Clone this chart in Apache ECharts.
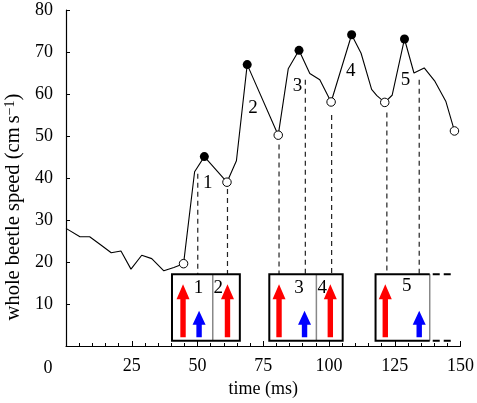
<!DOCTYPE html>
<html><head><meta charset="utf-8">
<script src="https://cdn.jsdelivr.net/npm/echarts@6/dist/echarts.min.js"></script>
<style>html,body{margin:0;padding:0;background:#fff}#c{width:477px;height:403px}</style>
</head><body><div id="c"></div>
<script>
// ---- data ----
const speedTimes = [0, 5.3, 9, 13.4, 17.2, 20.9, 24.7, 28.8, 32.6, 37.2, 41, 44.7, 48.9, 52.6, 61.2, 64.8, 68.9, 80.7, 84.5, 88.6, 92.7, 96.5, 100.8, 108.6, 112.2, 116.2, 118.2, 121.2, 124, 128.7, 132.3, 136.2, 140.3, 144.4, 147.7];
const speedValues = [28, 26, 26, 24, 22.2, 22.6, 18.3, 21.6, 20.8, 17.9, 18.7, 19.6, 41.5, 45.1, 39, 44.1, 67, 50.2, 66, 70.4, 64.9, 63.4, 58.1, 74.1, 69.7, 61.1, 59.6, 58, 59.7, 73.1, 65, 66.2, 63, 58.3, 51.2];
const peakTimes = [52.6, 68.9, 88.6, 108.6, 128.7];
const peakValues = [45.1, 67, 70.4, 74.1, 73.1];
const troughTimes = [44.7, 61.2, 80.7, 100.8, 121.2, 147.7];
const troughValues = [19.6, 39, 50.2, 58.1, 58, 51.2];
const peakLabels = ['1', '2', '3', '4', '5'];
const peakLabelTimes = [53.9, 71.1, 88, 108.3, 129.1];
const peakLabelValues = [38.7, 56.7, 62, 65.4, 63.4];
const dashTimes = [50.1, 61.4, 81, 91, 101, 122, 134.3];
const dashTops = [41, 37.4, 48, 63.4, 55, 55.6, 63.4];
const boxStarts = [40.3, 77.3, 117.7];
const boxEnds = [66.1, 105.2, 138.3];
const boxDividers = [55.8, 95.2, 138.3];
const boxOpen = [0, 0, 1];
const boxOpenExtent = 147.4;
const boxTop = 17.1, boxBottom = 1.25;
const boxLabels = ['1', '2', '3', '4', '5'];
const boxLabelTimes = [50.4, 57.9, 88.6, 97.4, 129.6];
const boxLabelValues = [13.9, 13.9, 13.9, 13.9, 14.3];
const redArrowTimes = [44.5, 61.4, 81, 100.5, 121.4];
const blueArrowTimes = [50.6, 90.7, 134.3];
const redArrowTop = 14.7, blueArrowTop = 8.4, arrowBase = 2.1;
const xTicks = [0, 25, 50, 75, 100, 125, 150];
const yTicks = [0, 10, 20, 30, 40, 50, 60, 70, 80];

const FONT = 'Liberation Serif';
const chart = echarts.init(document.getElementById('c'));

function arrowItem(params, api) {
  const t = api.value(0), top = api.value(1), kind = api.value(2);
  const b = api.coord([t, arrowBase]);
  const p = api.coord([t, top]);
  const sw = 2.7, hw = 6.5, hl = kind === 0 ? 15 : 14;
  const color = kind === 0 ? '#ff0000' : '#0000ff';
  const x = b[0];
  return {
    type: 'polygon',
    shape: { points: [[x - sw, b[1]], [x - sw, p[1] + hl], [x - hw, p[1] + hl], [x, p[1]], [x + hw, p[1] + hl], [x + sw, p[1] + hl], [x + sw, b[1]]] },
    style: { fill: color }
  };
}

const textLabel = { show: true, position: 'inside', formatter: '{b}', fontFamily: FONT, fontSize: 19, color: '#000', textBorderWidth: 0 };

const option = {
  animation: false,
  backgroundColor: '#fff',
  grid: { left: 66, right: 12, top: 10, bottom: 55 },
  xAxis: {
    type: 'value', min: 0, max: 150, interval: 25,
    axisLine: { show: true, lineStyle: { color: '#000', width: 1.2 } },
    axisTick: { show: true, inside: true, length: 5, lineStyle: { color: '#000' } },
    minorTick: { show: true, splitNumber: 5, length: 3, lineStyle: { color: '#000' } },
    splitLine: { show: false },
    axisLabel: { fontFamily: FONT, fontSize: 18, color: '#000', margin: 11,
      formatter: v => (v === 0 ? '' : String(v)) },
    name: 'time (ms)', nameLocation: 'middle', nameGap: 34,
    nameTextStyle: { fontFamily: FONT, fontSize: 18, color: '#000' }
  },
  yAxis: {
    type: 'value', min: 0, max: 80, interval: 10,
    axisLine: { show: true, lineStyle: { color: '#000', width: 1.2 } },
    axisTick: { show: true, inside: true, length: 4, lineStyle: { color: '#000' } },
    splitLine: { show: false },
    axisLabel: { fontFamily: FONT, fontSize: 18, color: '#000', margin: 13,
      formatter: v => (v === 0 ? '' : String(v)) }
  },
  graphic: [
    { type: 'text', x: 48, y: 368, style: { text: String(xTicks[0]), fontFamily: FONT, fontSize: 18, fill: '#000', align: 'center', verticalAlign: 'middle' } },
    { type: 'text', x: 14, y: 207, rotation: Math.PI / 2,
      style: { text: '{a|whole beetle speed (cm\u2009s}{b|\u22121}{a|)}', align: 'center', verticalAlign: 'middle',
        rich: { a: { fontFamily: FONT, fontSize: 20.5, fill: '#000' }, b: { fontFamily: FONT, fontSize: 14, fill: '#000', verticalAlign: 'top' } } } }
  ],
  series: [
    { // dashed verticals
      type: 'custom', z: 1, silent: true,
      data: dashTimes.map((t, i) => [t, dashTops[i]]),
      renderItem: (params, api) => {
        const a = api.coord([api.value(0), api.value(1)]);
        const b = api.coord([api.value(0), boxTop]);
        return { type: 'line', shape: { x1: a[0], y1: a[1], x2: b[0], y2: b[1] },
          style: { stroke: '#222', lineWidth: 1.2, lineDash: [5, 4] } };
      }
    },
    { // boxes
      type: 'custom', z: 2, silent: true,
      data: boxStarts.map((s, i) => [s, boxEnds[i], boxDividers[i], boxOpen[i]]),
      renderItem: (params, api) => {
        const s = api.value(0), e = api.value(1), d = api.value(2), open = api.value(3);
        const tl = api.coord([s, boxTop]);
        const br = api.coord([e, boxBottom]);
        const dv = api.coord([d, boxTop]);
        const children = [];
        children.push({ type: 'rect', shape: { x: tl[0], y: tl[1], width: br[0] - tl[0], height: br[1] - tl[1] },
          style: { fill: '#fff', stroke: null } });
        children.push({ type: 'line', shape: { x1: dv[0], y1: tl[1], x2: dv[0], y2: br[1] },
          style: { stroke: '#888', lineWidth: 1.5 } });
        if (open) {
          const ex = api.coord([boxOpenExtent, boxTop]);
          children.push({ type: 'polyline', shape: { points: [[br[0], tl[1]], [tl[0], tl[1]], [tl[0], br[1]], [br[0], br[1]]] },
            style: { stroke: '#000', lineWidth: 2, fill: null } });
          children.push({ type: 'line', shape: { x1: br[0] + 3, y1: tl[1], x2: ex[0], y2: tl[1] },
            style: { stroke: '#000', lineWidth: 2, lineDash: [7, 4] } });
          children.push({ type: 'line', shape: { x1: br[0] + 3, y1: br[1], x2: ex[0], y2: br[1] },
            style: { stroke: '#000', lineWidth: 2, lineDash: [7, 4] } });
        } else {
          children.push({ type: 'rect', shape: { x: tl[0], y: tl[1], width: br[0] - tl[0], height: br[1] - tl[1] },
            style: { fill: null, stroke: '#000', lineWidth: 2 } });
        }
        return { type: 'group', children };
      }
    },
    { // arrows
      type: 'custom', z: 3, silent: true,
      data: redArrowTimes.map(t => [t, redArrowTop, 0]).concat(blueArrowTimes.map(t => [t, blueArrowTop, 1])),
      renderItem: arrowItem
    },
    { // box numbers
      type: 'scatter', z: 4, symbolSize: 0, silent: true,
      itemStyle: { opacity: 1 },
      data: boxLabels.map((n, i) => ({ name: n, value: [boxLabelTimes[i], boxLabelValues[i]] })),
      label: textLabel
    },
    { // peak labels
      type: 'scatter', z: 4, symbolSize: 0, silent: true,
      itemStyle: { opacity: 1 },
      data: peakLabels.map((n, i) => ({ name: n, value: [peakLabelTimes[i], peakLabelValues[i]] })),
      label: textLabel
    },
    { // speed line
      type: 'line', z: 5, symbol: 'none', silent: true,
      data: speedTimes.map((t, i) => [t, speedValues[i]]),
      lineStyle: { color: '#000', width: 1.1 }
    },
    { // peaks
      type: 'scatter', z: 6, symbol: 'circle', symbolSize: 9, silent: true,
      data: peakTimes.map((t, i) => [t, peakValues[i]]),
      itemStyle: { color: '#000', opacity: 1 }
    },
    { // troughs
      type: 'scatter', z: 6, symbol: 'circle', symbolSize: 8.5, silent: true,
      data: troughTimes.map((t, i) => [t, troughValues[i]]),
      itemStyle: { color: '#fff', borderColor: '#000', borderWidth: 1, opacity: 1 }
    }
  ]
};
chart.setOption(option);
</script>
</body></html>
